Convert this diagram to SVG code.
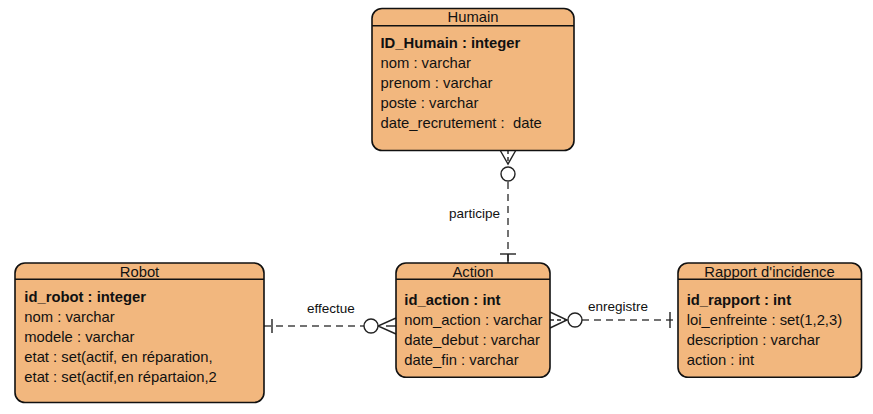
<svg xmlns="http://www.w3.org/2000/svg" width="873" height="414" viewBox="0 0 873 414">
<style>
.box{fill:#F2B77E;stroke:#111;stroke-width:1.6}
.hdr{stroke:#111;stroke-width:1.4}
text{font-family:"Liberation Sans",Arial,sans-serif;font-size:14.8px;fill:#111}
.t{text-anchor:middle}
.b{font-weight:bold}
.lbl{font-size:13.5px}
.dash{fill:none;stroke:#444;stroke-width:1.5;stroke-dasharray:7 5}
.solid{fill:none;stroke:#222;stroke-width:1.4}
.circ{fill:#fff;stroke:#222;stroke-width:1.4}
</style>
<rect width="873" height="414" fill="#fff"/>
<g id="connectors">
  <g id="participe">
    <line class="dash" x1="508" y1="182" x2="508" y2="263"/>
    <line class="solid" x1="500" y1="254" x2="516" y2="254"/>
    <line class="solid" x1="508" y1="254" x2="508" y2="263"/>
    <polyline class="solid" points="500,150 508,164 516,150"/>
    <line class="solid" x1="508" y1="150" x2="508" y2="164" stroke-dasharray="4 3"/>
    <circle class="circ" cx="508" cy="174" r="7"/>
    <text class="lbl" x="449" y="218">participe</text>
  </g>
  <g id="effectue">
    <line class="dash" x1="264" y1="326" x2="364" y2="326"/>
    <line class="solid" x1="272" y1="319" x2="272" y2="333"/>
    <polyline class="solid" points="396,318 378,326 396,334"/>
    <line class="solid" x1="386" y1="326" x2="396" y2="326"/>
    <circle class="circ" cx="371" cy="326" r="7"/>
    <text class="lbl" x="307" y="313">effectue</text>
  </g>
  <g id="enregistre">
    <line class="dash" x1="582" y1="320" x2="678" y2="320"/>
    <line class="solid" x1="670" y1="312" x2="670" y2="328"/>
    <polyline class="solid" points="550,312 567,320 550,328"/>
    <line class="solid" x1="550" y1="320" x2="567" y2="320" stroke-dasharray="4 3"/>
    <circle class="circ" cx="575" cy="320" r="7"/>
    <text class="lbl" x="588" y="311">enregistre</text>
  </g>
</g>
<g id="Humain">
  <rect class="box" x="372" y="8.5" width="202" height="142" rx="10"/>
  <line class="hdr" x1="372" y1="25.7" x2="574" y2="25.7"/>
  <text class="t" x="473" y="22">Humain</text>
  <text class="b" x="380.5" y="48.3">ID_Humain : integer</text>
  <text x="380.5" y="68.3">nom : varchar</text>
  <text x="380.5" y="88.3">prenom : varchar</text>
  <text x="380.5" y="108.3">poste : varchar</text>
  <text x="380.5" y="128.3" xml:space="preserve">date_recrutement :  date</text>
</g>
<g id="Robot">
  <rect class="box" x="15" y="263" width="249" height="139.5" rx="10"/>
  <line class="hdr" x1="15" y1="279.3" x2="264" y2="279.3"/>
  <text class="t" x="139.5" y="276.5">Robot</text>
  <text class="b" x="24.3" y="301.7">id_robot : integer</text>
  <text x="24.3" y="321.7">nom : varchar</text>
  <text x="24.3" y="341.7">modele : varchar</text>
  <text x="24.3" y="361.7">etat : set(actif, en réparation,</text>
  <text x="24.3" y="381.7">etat : set(actif,en répartaion,2</text>
</g>
<g id="Action">
  <rect class="box" x="396" y="263" width="154" height="114.3" rx="10"/>
  <line class="hdr" x1="396" y1="279.3" x2="550" y2="279.3"/>
  <text class="t" x="473" y="276.5">Action</text>
  <text class="b" x="404.3" y="305">id_action : int</text>
  <text x="404.3" y="325">nom_action : varchar</text>
  <text x="404.3" y="345">date_debut : varchar</text>
  <text x="404.3" y="364.5">date_fin : varchar</text>
</g>
<g id="Rapport">
  <rect class="box" x="678" y="263" width="183.5" height="114.3" rx="10"/>
  <line class="hdr" x1="678" y1="279.3" x2="861.5" y2="279.3"/>
  <text class="t" x="769.5" y="276.5">Rapport d'incidence</text>
  <text class="b" x="686.7" y="305">id_rapport : int</text>
  <text x="686.7" y="325">loi_enfreinte : set(1,2,3)</text>
  <text x="686.7" y="345">description : varchar</text>
  <text x="686.7" y="364.5">action : int</text>
</g>
</svg>
